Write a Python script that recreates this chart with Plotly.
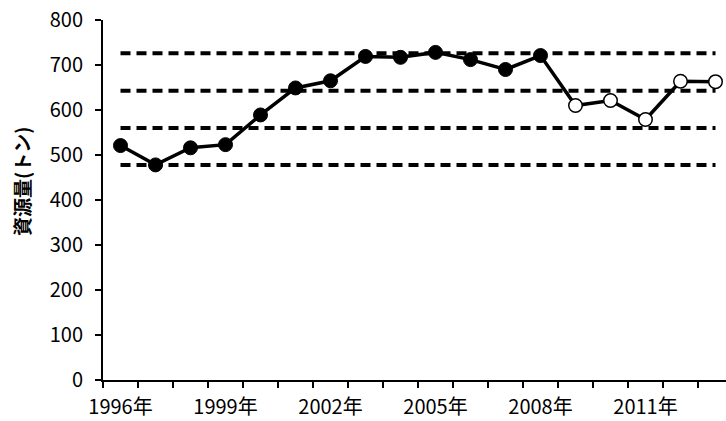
import plotly.graph_objects as go

years = list(range(1996, 2014))
biomass_filled = [521, 478, 516, 523, 589, 649, 665, 719, 717, 728, 712, 690, 721]
years_filled = years[:13]
biomass_open = [721, 610, 621, 579, 664, 663]
years_open = years[12:]
open_values_only = biomass_open[1:]
years_open_only = years_open[1:]
ref_levels = [726, 643, 560, 478]
tick_years = [1996, 1999, 2002, 2005, 2008, 2011]
tick_labels = ["1996年", "1999年", "2002年", "2005年", "2008年", "2011年"]
y_title = "資源量(トン)"

FONT = "Noto Sans CJK JP"

fig = go.Figure()

for lv in ref_levels:
    fig.add_trace(go.Scatter(
        x=[years[0], years[-1]], y=[lv, lv], mode="lines",
        line=dict(color="black", width=4, dash="10px,6px"),
        hoverinfo="skip", showlegend=False))

# connecting line across all years
fig.add_trace(go.Scatter(
    x=years_filled + years_open_only, y=biomass_filled + open_values_only,
    mode="lines", line=dict(color="black", width=3.5), showlegend=False))

fig.add_trace(go.Scatter(
    x=years_filled, y=biomass_filled, mode="markers",
    marker=dict(color="black", size=14, line=dict(color="black", width=1)),
    showlegend=False))

fig.add_trace(go.Scatter(
    x=years_open_only, y=open_values_only, mode="markers",
    marker=dict(color="white", size=13.5, line=dict(color="black", width=1.5)),
    showlegend=False))

boundaries = [y - 0.5 for y in years] + [years[-1] + 0.5]

fig.update_layout(
    width=726, height=421,
    margin=dict(l=103, r=0, t=20, b=41, pad=0, autoexpand=False),
    paper_bgcolor="white", plot_bgcolor="white",
    font=dict(family=FONT, size=20, color="black"),
    xaxis=dict(
        range=[1995.5, 2013.3], tickvals=tick_years, ticktext=tick_labels,
        ticks="", showgrid=False, zeroline=False,
        showline=True, linecolor="black", linewidth=2,
        minor=dict(tickvals=boundaries, ticks="outside", ticklen=6,
                   tickcolor="black", tickwidth=1.5, showgrid=False),
        tickfont=dict(family=FONT, size=20),
        ticklabelstandoff=8,
    ),
    yaxis=dict(
        range=[0, 800], tickvals=list(range(0, 801, 100)),
        ticks="outside", ticklen=6, tickcolor="black", tickwidth=1.5,
        showgrid=False, zeroline=False,
        showline=True, linecolor="black", linewidth=2,
        tickfont=dict(family=FONT, size=20),
        ticklabelstandoff=8,
    ),
    annotations=[dict(
        text="<b>" + y_title + "</b>", textangle=-90,
        xref="paper", yref="paper", x=-0.13, y=0.55,
        xanchor="center", yanchor="middle", showarrow=False,
        font=dict(family=FONT, size=19, color="black"))],
)

fig.write_html("out.html", config={"displayModeBar": False},
               post_script="document.body.style.margin='0';document.body.style.overflow='hidden';")
